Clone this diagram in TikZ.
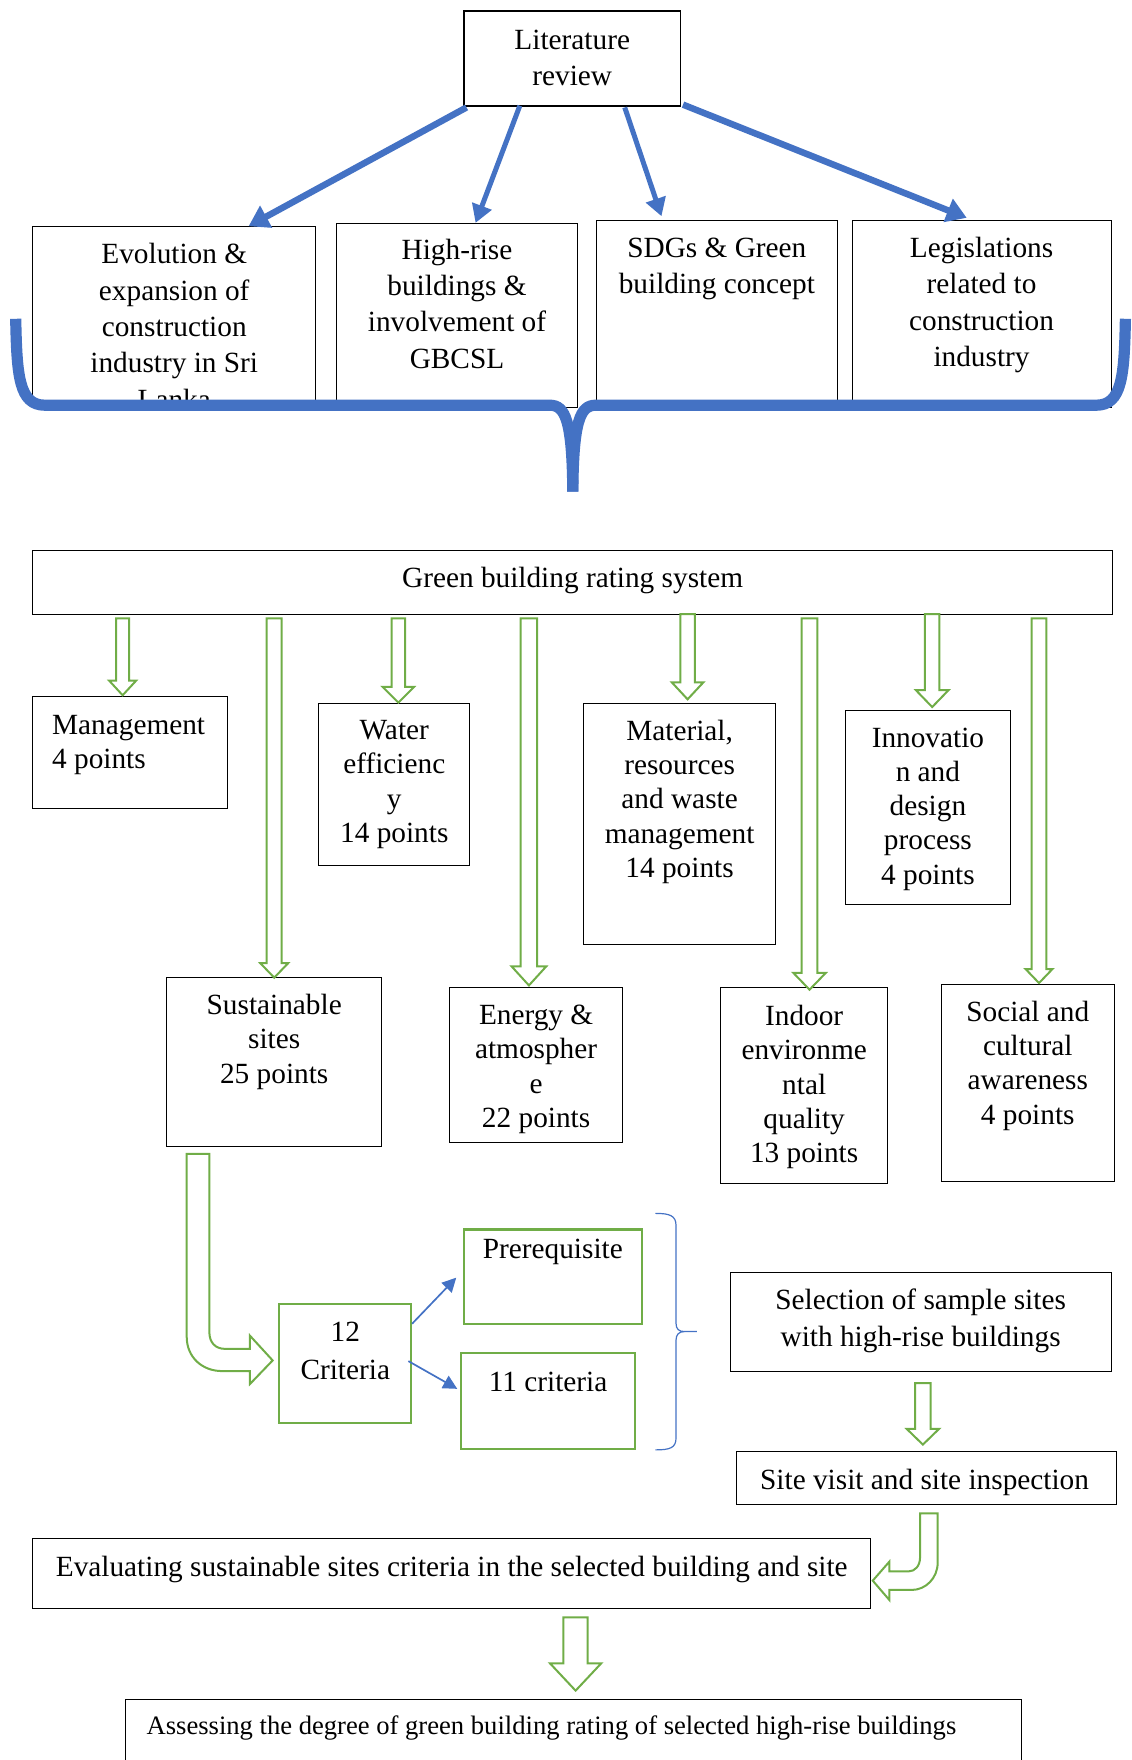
\documentclass[tikz,border=0pt]{standalone}
\usepackage{fontspec}
\setmainfont{Liberation Serif}
\usetikzlibrary{arrows.meta,fit,calc}
\definecolor{bl}{RGB}{68,114,196}
\definecolor{gr}{RGB}{112,173,71}
\newcommand\fstrut{\rule{0pt}{22pt}}
% hollow block arrow pointing down: x, ytop, ytip, shaft half, head half, head length
\newcommand\blockdown[6]{%
  \draw[garrow] ({#1-#4},#2) -- ({#1+#4},#2) -- ({#1+#4},{#3-#6}) -- ({#1+#5},{#3-#6})
    -- (#1,#3) -- ({#1-#5},{#3-#6}) -- ({#1-#4},{#3-#6}) -- cycle;}
\begin{document}
\begin{tikzpicture}[x=1.1220pt,y=-1.1224pt,
  bbox/.style={draw=black,line width=1pt,inner sep=0pt},
  gbox/.style={draw=gr,line width=2.2pt,inner sep=0pt},
  txt/.style={inner sep=0pt,anchor=north,align=center,font=\fontsize{29.3}{36.3}\selectfont},
  rtxt/.style={txt,font=\fontsize{29.3}{34.3}\selectfont},
  barrow/.style={draw=bl,-{Triangle[width=24pt,length=20pt]}},
  bthin/.style={draw=bl,line width=1.7pt,-{Triangle[width=14pt,length=14pt]}},
  garrow/.style={draw=gr,line width=2pt,fill=white,line join=miter},
  brace/.style={draw=bl,line width=11.2pt}
]
\useasboundingbox (0,0) rectangle (1008,1568);

% ---------- top part ----------
\node[bbox,line width=1.6pt,fit={(413.5,9.8)(606.4,94.5)}] (lit) {};
\node[txt] (litt) at (510,24) {\fstrut Literature\\review};

\node[bbox,fit={(29,202)(281.6,363)}] (b1) {};
\node[bbox,fit={(300.3,199)(514.4,363)}] (b2) {};
\node[bbox,fit={(531.2,196.1)(746.6,363)}] (b3) {};
\node[bbox,fit={(759.4,196.1)(990.2,363)}] (b4) {};
\node[txt] (b1t) at (155.3,215.4) {\fstrut Evolution \&\\expansion of\\construction\\industry in Sri\\Lanka};
\node[txt] (b2t) at (407.3,211.2) {\fstrut High-rise\\buildings \&\\involvement of\\GBCSL};
\node[txt] (b3t) at (638.9,209.7) {\fstrut SDGs \& Green\\building concept};
\node[txt] (b4t) at (874.8,209.7) {\fstrut Legislations\\related to\\construction\\industry};

\draw[barrow,line width=6.5pt] ($(lit.south west)+(3,0.5)$) -- ($(b1.north west)+(193,0)$);
\draw[barrow,line width=5pt,-{Triangle[width=20pt,length=18pt]}] ($(lit.south west)+(50.5,-1)$) -- ($(b2.north west)+(124,0)$);
\draw[barrow,line width=5pt,-{Triangle[width=20pt,length=18pt]}] ($(lit.south west)+(144,0.5)$) -- ($(b3.north west)+(58.8,-3)$);
\draw[barrow,line width=6.5pt] ($(lit.south east)+(1.6,-2)$) -- ($(b4.north west)+(102.6,-1.6)$);

% big brace
\draw[brace] (14,284) .. controls (15,335) and (17,361) .. (40,361) -- (490,361)
  .. controls (504,361) and (510,375) .. (510.5,438);
\draw[brace] (1003,284) .. controls (1002,335) and (1000,361) .. (977,361) -- (531,361)
  .. controls (517,361) and (511,375) .. (510.5,438);

% ---------- rating system ----------
\node[bbox,fit={(29,490.2)(991.6,547.2)}] (gbrs) {};
\node[txt] (gbrst) at (510.3,503.9) {\fstrut Green building rating system};

\node[bbox,fit={(29,620.9)(202.6,720.4)}] (mg) {};
\node[rtxt,anchor=north west,align=left] (mgt) at (46.3,634.6) {\fstrut Management\\4 points};
\node[bbox,fit={(284.2,626.9)(418.6,771.5)}] (we) {};
\node[rtxt] (wet) at (351.4,639) {\fstrut Water\\efficienc\\y\\14 points};
\node[bbox,fit={(520.2,626.9)(691.3,841.6)}] (mr) {};
\node[rtxt] (mrt) at (605.7,639.6) {\fstrut Material,\\resources\\and waste\\management\\14 points};
\node[bbox,fit={(753.6,632.8)(900.3,805.7)}] (idp) {};
\node[rtxt] (idpt) at (827,645.8) {\fstrut Innovatio\\n and\\design\\process\\4 points};

\node[bbox,fit={(148.5,871)(340.2,1021.4)}] (ss) {};
\node[rtxt] (sst) at (244.4,884.1) {\fstrut Sustainable\\sites\\25 points};
\node[bbox,fit={(400.6,879.4)(555,1017.5)}] (ea) {};
\node[rtxt] (eat) at (477.8,893) {\fstrut Energy \&\\atmospher\\e\\22 points};
\node[bbox,fit={(642.4,880)(790.9,1054)}] (ieq) {};
\node[rtxt] (ieqt) at (716.7,893.9) {\fstrut Indoor\\environme\\ntal\\quality\\13 points};
\node[bbox,fit={(839.2,877)(992.9,1052.3)}] (sc) {};
\node[rtxt] (sct) at (916,890.1) {\fstrut Social and\\cultural\\awareness\\4 points};

\blockdown{109.3}{551}{619.4}{5.8}{12}{13}
\blockdown{244.4}{551}{871}{6.7}{12.5}{13}
\blockdown{355}{551}{626}{6}{14}{14}
\blockdown{471.4}{551}{877.9}{7.4}{15.5}{17}
\blockdown{612.8}{547.2}{623}{6.5}{14}{15}
\blockdown{721.5}{551}{881.7}{7}{14.5}{15}
\blockdown{830.8}{547.2}{629.9}{6.5}{14.5}{15}
\blockdown{926}{551}{875.8}{6.5}{12}{12.5}

% ---------- sustainable sites detail ----------
\node[gbox,fit={(249,1161.6)(366.3,1268)}] (crit) {};
\node[txt,font=\fontsize{29.3}{37.6}\selectfont] (critt) at (307.7,1175.3) {\fstrut 12\\Criteria};
\node[gbox,fit={(413.5,1095.4)(571.9,1179.4)}] (pre) {};
\node[txt] (pret) at (492.7,1101) {\fstrut Prerequisite};
\node[gbox,fit={(410.9,1205.6)(566,1290.8)}] (elev) {};
\node[txt] (elevt) at (488.5,1219.8) {\fstrut 11 criteria};

\draw[garrow] (166.4,1028) -- (166.4,1191) .. controls (166.4,1209) and (180,1221.5) .. (198,1221.5)
  -- (222.8,1221.5) -- (222.8,1233) -- (243,1212) -- (222.8,1190) -- (222.8,1201.7) -- (200.5,1201.7)
  .. controls (192,1201.7) and (186.6,1196) .. (186.6,1187) -- (186.6,1028) -- cycle;

\draw[bthin] ($(crit.north east)+(0,18.7)$) -- ($(pre.south west)+(-5.9,-42.1)$);
\draw[bthin] ($(crit.north east)+(-3.3,52)$) -- ($(elev.north west)+(-2.4,32.7)$);

\draw[draw=bl,line width=1.2pt] (584,1081) .. controls (597,1081) and (602.5,1083) .. (602.5,1092)
  -- (602.5,1179) .. controls (602.5,1184) and (605,1186.3) .. (610,1186.3) -- (621,1186.3)
  (621,1186.3) -- (610,1186.3) .. controls (605,1186.3) and (602.5,1189) .. (602.5,1194)
  -- (602.5,1281) .. controls (602.5,1290) and (597,1291.7) .. (584,1291.7);

% ---------- right column and bottom ----------
\node[bbox,fit={(650.8,1133.4)(990.3,1221.6)}] (sel) {};
\node[txt,font=\fontsize{29.3}{36.7}\selectfont] (selt) at (820.5,1147) {\fstrut Selection of sample sites\\with high-rise buildings};
\node[bbox,fit={(656,1293)(994.7,1340.6)}] (site) {};
\node[txt] (sitet) at (824,1307.4) {\fstrut Site visit and site inspection};
\blockdown{822.5}{1232.3}{1287}{7}{14.4}{14}

\node[bbox,fit={(29,1371)(776.2,1433.4)}] (eval) {};
\node[txt] (evalt) at (402.6,1384.7) {\fstrut Evaluating sustainable sites criteria in the selected building and site};

\draw[garrow] (820,1348.2) -- (835.7,1348.2) -- (835.7,1392) .. controls (835.7,1406) and (825,1416.5) .. (812.5,1416.5)
  -- (792.6,1416.5) -- (792.6,1425.4) -- (777.8,1408.2) -- (792.6,1391.3) -- (792.6,1400) -- (809.6,1400)
  .. controls (815.5,1400) and (820,1395) .. (820,1387.4) -- cycle;

\blockdown{513}{1441}{1506.2}{10.8}{22.8}{24.3}

\node[bbox,fit={(111.9,1514)(910.5,1590)}] (assess) {};
\node[txt,anchor=north west,font=\fontsize{26.6}{32}\selectfont] (assesst) at (130.5,1525.1) {\fstrut Assessing the degree of green building rating of selected high-rise buildings};
\end{tikzpicture}
\end{document}
